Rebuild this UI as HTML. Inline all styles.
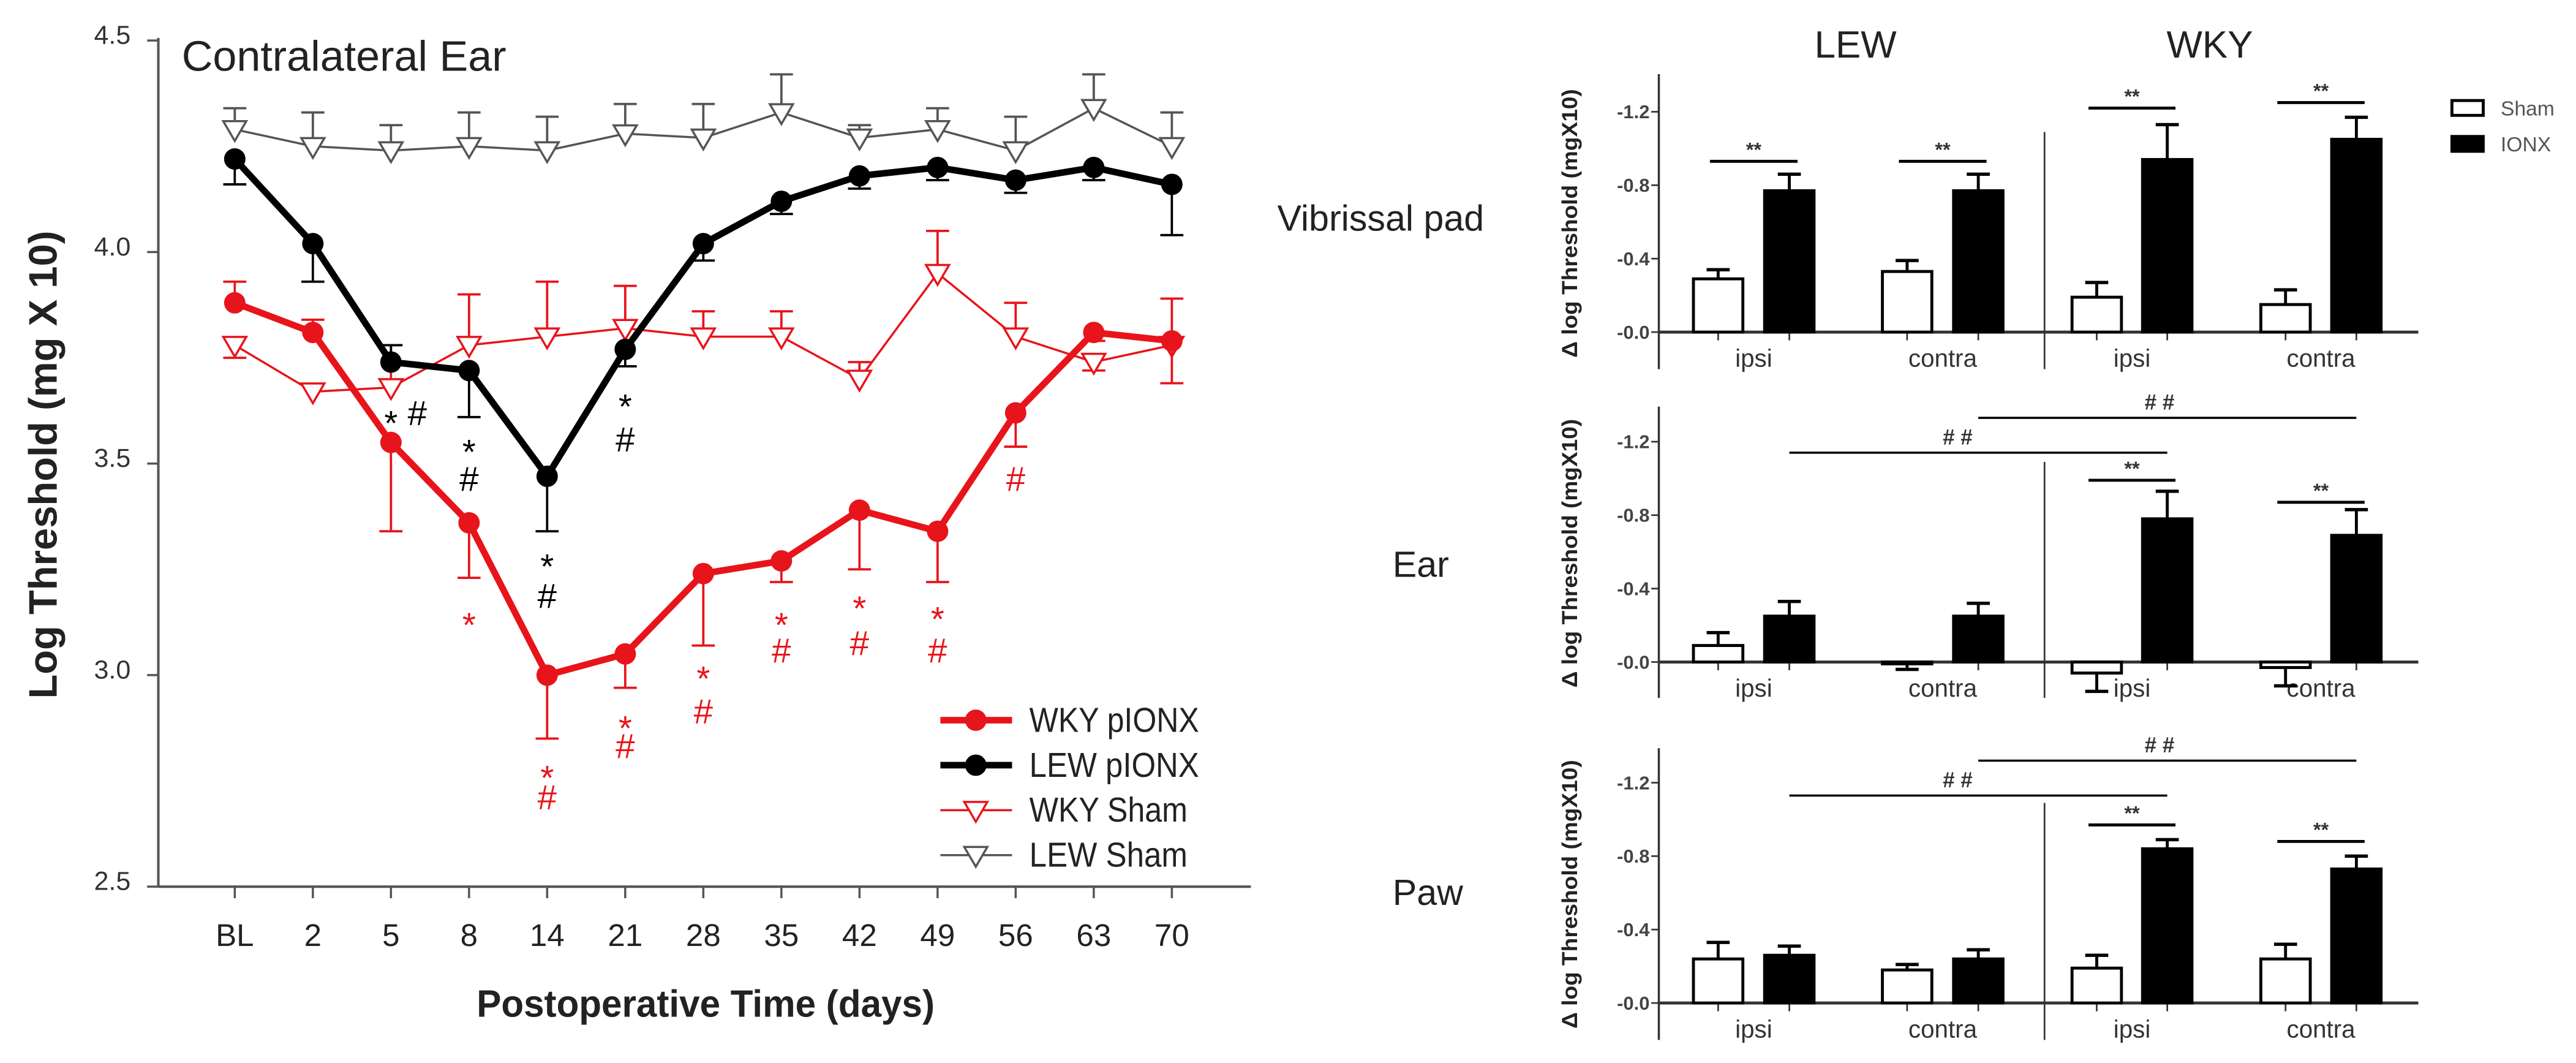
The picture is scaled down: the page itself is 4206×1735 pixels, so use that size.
<!DOCTYPE html>
<html><head><meta charset="utf-8"><style>
html,body{margin:0;padding:0;background:#fff;}
svg{display:block;font-family:"Liberation Sans",Arial,sans-serif;}
</style></head><body>
<svg id="fig" width="4206" height="1735" viewBox="0 0 1563 645" xmlns="http://www.w3.org/2000/svg">
<g id="left"></g>
<g id="right"></g>
</svg>
<script>
// ---------- Left line chart data ----------
const days = ["BL","2","5","8","14","21","28","35","42","49","56","63","70"];
const wkyIonx = [3.88,3.81,3.55,3.36,3.00,3.05,3.24,3.27,3.39,3.34,3.62,3.81,3.79];
const wkyIonxErr = [0.05,0.03,0.21,0.13,0.15,0.08,0.17,0.05,0.14,0.12,0.08,0.02,0.10];
const wkyIonxDir = [1,1,-1,-1,-1,-1,-1,-1,-1,-1,-1,-1,0];
const lewIonx = [4.22,4.02,3.74,3.72,3.47,3.77,4.02,4.12,4.18,4.20,4.17,4.20,4.16];
const lewIonxErr = [0.06,0.09,0.04,0.11,0.13,0.04,0.04,0.03,0.03,0.03,0.03,0.03,0.12];
const lewIonxDir = [-1,-1,1,-1,-1,-1,-1,-1,-1,-1,-1,-1,-1];
const wkySham = [3.78,3.67,3.68,3.78,3.80,3.82,3.80,3.80,3.70,3.95,3.80,3.74,3.78];
const wkyShamErr = [0.03,0.00,0.10,0.12,0.13,0.10,0.06,0.06,0.04,0.10,0.08,0.02,0.00];
const wkyShamDir = [-1,1,1,1,1,1,1,1,1,1,1,-1,1];
const lewSham = [4.29,4.25,4.24,4.25,4.24,4.28,4.27,4.33,4.27,4.29,4.24,4.34,4.25];
const lewShamErr = [0.05,0.08,0.06,0.08,0.08,0.07,0.08,0.09,0.03,0.05,0.08,0.08,0.08];
const lewShamDir = [1,1,1,1,1,1,1,1,1,1,1,1,1];
const yTicks = [2.5,3.0,3.5,4.0,4.5];
const yTickLabels = ["2.5","3.0","3.5","4.0","4.5"];
// annotations: [index, value (glyph centre), text, color]
const annotations = [
 [2,3.618,"*#","#000"],[3,3.550,"*","#000"],[3,3.462,"#","#000"],
 [4,3.279,"*","#000"],[4,3.186,"#","#000"],[5,3.657,"*","#000"],[5,3.556,"#","#000"],
 [3,3.141,"*","#e8141b"],[4,2.780,"*","#e8141b"],[4,2.710,"#","#e8141b"],
 [5,2.897,"*","#e8141b"],[5,2.831,"#","#e8141b"],[6,3.014,"*","#e8141b"],[6,2.913,"#","#e8141b"],
 [7,3.141,"*","#e8141b"],[7,3.057,"#","#e8141b"],[8,3.180,"*","#e8141b"],[8,3.074,"#","#e8141b"],
 [9,3.155,"*","#e8141b"],[9,3.057,"#","#e8141b"],[10,3.462,"#","#e8141b"]
];

// ---------- Right bar chart data ----------
const groups = ["ipsi","contra","ipsi","contra"];
const vibShamVals = [0.29,0.33,0.19,0.15];
const vibShamErr = [0.05,0.06,0.08,0.08];
const vibIonxVals = [0.77,0.77,0.94,1.05];
const vibIonxErr = [0.09,0.09,0.19,0.12];
const earShamVals = [0.09,-0.01,-0.06,-0.03];
const earShamErr = [0.07,0.03,0.10,0.10];
const earIonxVals = [0.25,0.25,0.78,0.69];
const earIonxErr = [0.08,0.07,0.15,0.14];
const pawShamVals = [0.24,0.18,0.19,0.24];
const pawShamErr = [0.09,0.03,0.07,0.08];
const pawIonxVals = [0.26,0.24,0.84,0.73];
const pawIonxErr = [0.05,0.05,0.05,0.07];
const barTicks = [0,0.4,0.8,1.2];
const barTickLabels = ["-0.0","-0.4","-0.8","-1.2"];

const NS="http://www.w3.org/2000/svg";
function mk(parent,tag,attrs,text){const e=document.createElementNS(NS,tag);for(const k in attrs)e.setAttribute(k,attrs[k]);if(text!==undefined)e.textContent=text;parent.appendChild(e);return e;}

// ---------- Left chart ----------
const L=document.getElementById('left');
const yL=v=>24.6+(4.5-v)*256.7;
const xL=i=>142.2+i*47.4;
let e;
e=mk(L,'line',{x1:95.8,y1:23,x2:95.8,y2:538,stroke:'#555','stroke-width':1.5});


e=mk(L,'line',{x1:95.8,y1:538,x2:759,y2:538,stroke:'#555','stroke-width':1.5});


yTicks.forEach((t,i)=>{
 mk(L,'line',{x1:89,y1:yL(t),x2:95.8,y2:yL(t),stroke:'#555','stroke-width':1.3});
 e=mk(L,'text',{x:79,y:yL(t)+2,'text-anchor':'end','font-size':16,fill:'#333'},yTickLabels[i]);
 
 
});
days.forEach((d,i)=>{
 mk(L,'line',{x1:xL(i),y1:538,x2:xL(i),y2:545,stroke:'#555','stroke-width':1.3});
 e=mk(L,'text',{x:xL(i),y:574,'text-anchor':'middle','font-size':19,fill:'#222'},d);
 
 
});
e=mk(L,'text',{x:289,y:617,'font-size':23,'font-weight':'bold',fill:'#222',textLength:278,lengthAdjust:'spacingAndGlyphs'},'Postoperative Time (days)');


e=mk(L,'text',{x:0,y:0,'text-anchor':'middle','font-size':24,'font-weight':'bold',fill:'#222',textLength:284,lengthAdjust:'spacingAndGlyphs',transform:'translate(34,282) rotate(-90)'},'Log Threshold (mg X 10)');


e=mk(L,'text',{x:110,y:43,'font-size':26,fill:'#222',textLength:197,lengthAdjust:'spacingAndGlyphs'},'Contralateral Ear');



function series(vals,errs,dirs,color,width,marker,name){
 const g=mk(L,'g',{});
 
 
 vals.forEach((v,i)=>{if(errs[i]>0){
  const hi=dirs[i]>=0?v+errs[i]:v, lo=dirs[i]<=0?v-errs[i]:v;
  mk(g,'line',{x1:xL(i),y1:yL(lo),x2:xL(i),y2:yL(hi),stroke:color,'stroke-width':1.4});
  if(dirs[i]>=0) mk(g,'line',{x1:xL(i)-7,y1:yL(hi),x2:xL(i)+7,y2:yL(hi),stroke:color,'stroke-width':1.4});
  if(dirs[i]<=0) mk(g,'line',{x1:xL(i)-7,y1:yL(lo),x2:xL(i)+7,y2:yL(lo),stroke:color,'stroke-width':1.4});
 }});
 mk(g,'polyline',{points:vals.map((v,i)=>xL(i)+','+yL(v)).join(' '),fill:'none',stroke:color,'stroke-width':width});
 vals.forEach((v,i)=>{
  let m;
  if(marker==='circle') m=mk(g,'circle',{cx:xL(i),cy:yL(v),r:6.5,fill:color});
  else m=mk(g,'path',{d:`M${xL(i)-7},${yL(v)-5} L${xL(i)+7},${yL(v)-5} L${xL(i)},${yL(v)+7} Z`,fill:'#fff',stroke:color,'stroke-width':1.3});
  
  
 });
}
series(lewSham,lewShamErr,lewShamDir,'#555',1.3,'tri','lew-sham-series');
series(wkySham,wkyShamErr,wkyShamDir,'#e8141b',1.3,'tri','wky-sham-series');
series(lewIonx,lewIonxErr,lewIonxDir,'#000',4,'circle','lew-pionx-series');
series(wkyIonx,wkyIonxErr,wkyIonxDir,'#e8141b',4,'circle','wky-pionx-series');
function mark(x,v,sym,color){
 const off=sym==='*'?13:7;
 const t=mk(L,'text',{x:x,y:yL(v)+off,'text-anchor':'middle','font-size':21,fill:color},sym);
 
 
}
annotations.forEach(a=>{
 if(a[2]==='*#'){mark(xL(a[0]),a[1],'*',a[3]);mark(xL(a[0])+16,a[1],'#',a[3]);}
 else mark(xL(a[0]),a[1],a[2],a[3]);
});
const legend=[['WKY pIONX','#e8141b',4,'circle'],['LEW pIONX','#000',4,'circle'],['WKY Sham','#e8141b',1.3,'tri'],['LEW Sham','#555',1.3,'tri']];
legend.forEach((l,i)=>{
 const y=437+i*27.3;
 const g=mk(L,'g',{});
 
 
 mk(g,'line',{x1:570.5,y1:y,x2:614,y2:y,stroke:l[1],'stroke-width':l[2]});
 if(l[3]==='circle') mk(g,'circle',{cx:592,cy:y,r:6.5,fill:l[1]});
 else mk(g,'path',{d:`M585,${y-5} L599,${y-5} L592,${y+7} Z`,fill:'#fff',stroke:l[1],'stroke-width':1.3});
 mk(g,'text',{x:624.5,y:y+7,'font-size':21,fill:'#222',textLength:(i<2?103:96),lengthAdjust:'spacingAndGlyphs'},l[0]);
});

// ---------- Right bar charts ----------
const R=document.getElementById('right');
const shamX=[1042.6,1157.3,1272.4,1387];
const ionxX=[1085.8,1200.5,1315.2,1430];
const bw=30;
const unit=111.4;
function panel(zeroY,topY,botY,sv,se,iv,ie,label,labelX,labelY,hashes,sigs,name){
 const g=mk(R,'g',{});
 
 
 const y=v=>zeroY-v*unit;
 mk(g,'line',{x1:1006.6,y1:topY,x2:1006.6,y2:botY,stroke:'#333','stroke-width':1.3});
 mk(g,'line',{x1:1006.6,y1:zeroY,x2:1467.6,y2:zeroY,stroke:'#333','stroke-width':1.8});
 mk(g,'line',{x1:1240.7,y1:y(1.09),x2:1240.7,y2:botY,stroke:'#333','stroke-width':1});
 barTicks.forEach((t,i)=>{
  mk(g,'line',{x1:1002,y1:y(t),x2:1006.6,y2:y(t),stroke:'#333'});
  const tl=mk(g,'text',{x:1001,y:y(t)+4,'text-anchor':'end','font-size':11.5,'font-weight':'bold',fill:'#444'},barTickLabels[i]);
  
  
 });
 groups.forEach((gname,i)=>{
  mk(g,'line',{x1:shamX[i],y1:zeroY,x2:shamX[i],y2:zeroY+5,stroke:'#333'});
  mk(g,'line',{x1:ionxX[i],y1:zeroY,x2:ionxX[i],y2:zeroY+5,stroke:'#333'});
  const t=mk(g,'text',{x:(shamX[i]+ionxX[i])/2,y:zeroY+21,'text-anchor':'middle','font-size':15,fill:'#333'},gname);
  
  
  [[sv,se,shamX,'#fff','sham-bar'],[iv,ie,ionxX,'#000','ionx-bar']].forEach(s=>{
   const v=s[0][i],er=s[1][i],cx=s[2][i];
   const b=mk(g,'rect',{x:cx-bw/2,y:Math.min(y(v),zeroY),width:bw,height:Math.abs(y(v)-zeroY),fill:s[3],stroke:'#000','stroke-width':1.8});
   
   
   const ee=v>=0?v+er:v-er;
   mk(g,'line',{x1:cx,y1:y(v),x2:cx,y2:y(ee),stroke:'#000','stroke-width':1.8});
   mk(g,'line',{x1:cx-7,y1:y(ee),x2:cx+7,y2:y(ee),stroke:'#000','stroke-width':2});
  });
 });
 sigs.forEach(s=>{
  const i=s[0],v=s[1];
  mk(g,'line',{x1:shamX[i]-5,y1:y(v),x2:ionxX[i]+5,y2:y(v),stroke:'#000','stroke-width':1.8});
  const t=mk(g,'text',{x:(shamX[i]+ionxX[i])/2,y:y(v)-3,'text-anchor':'middle','font-size':12,'font-weight':'bold',fill:'#333'},'**');
  
  
 });
 hashes.forEach(h=>{
  mk(g,'line',{x1:ionxX[h[0]],y1:y(h[2]),x2:ionxX[h[1]],y2:y(h[2]),stroke:'#000','stroke-width':1.3});
  const t=mk(g,'text',{x:h[3],y:y(h[2])-5,'text-anchor':'middle','font-size':13,'font-weight':'bold',fill:'#333'},'# #');
  
  
 });
 const yt=mk(g,'text',{x:0,y:0,'text-anchor':'middle','font-size':13,'font-weight':'bold',fill:'#222',textLength:163,lengthAdjust:'spacingAndGlyphs',transform:`translate(957,${zeroY-66}) rotate(-90)`},'Δ log Threshold (mgX10)');
 
 
 const rl=mk(g,'text',{x:labelX,y:labelY,'font-size':22,fill:'#222'},label);
 
 
}
panel(201.5,45,224,vibShamVals,vibShamErr,vibIonxVals,vibIonxErr,'Vibrissal pad',775,140,[],[[0,0.93],[1,0.93],[2,1.22],[3,1.25]],'vibrissal-pad-panel');
panel(401.7,246.7,423.5,earShamVals,earShamErr,earIonxVals,earIonxErr,'Ear',845,350,[[0,2,1.14,1188],[1,3,1.33,1310.5]],[[2,0.99],[3,0.87]],'ear-panel');
panel(608.6,454,631,pawShamVals,pawShamErr,pawIonxVals,pawIonxErr,'Paw',845,549,[[0,2,1.13,1188],[1,3,1.32,1310.5]],[[2,0.97],[3,0.88]],'paw-panel');
e=mk(R,'text',{x:1126,y:35,'text-anchor':'middle','font-size':23,fill:'#222'},'LEW');


e=mk(R,'text',{x:1341,y:35,'text-anchor':'middle','font-size':23,fill:'#222'},'WKY');


[['Sham','#fff',65.5],['IONX','#000',87.3]].forEach(l=>{
 const g=mk(R,'g',{});
 
 
 mk(g,'rect',{x:1488,y:l[2]-4.5,width:19,height:9,fill:l[1],stroke:'#000','stroke-width':1.8});
 mk(g,'text',{x:1517.6,y:l[2]+4.5,'font-size':12.5,fill:'#555'},l[0]);
});
</script>
</body></html>
